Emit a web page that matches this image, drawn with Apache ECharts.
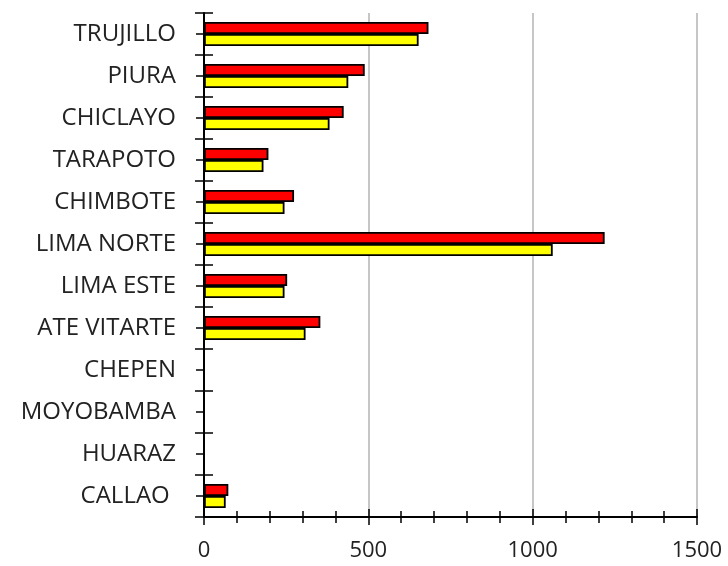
<!DOCTYPE html>
<html>
<head>
<meta charset="utf-8">
<script src="https://cdn.jsdelivr.net/npm/echarts@6/dist/echarts.min.js"></script>
<style>
  html, body { margin: 0; padding: 0; background: #fff; }
  #chart { width: 728px; height: 566px; }
</style>
</head>
<body>
<div id="chart"></div>
<script>
// categories top to bottom
const cities = ['TRUJILLO', 'PIURA', 'CHICLAYO', 'TARAPOTO', 'CHIMBOTE', 'LIMA NORTE',
  'LIMA ESTE', 'ATE VITARTE', 'CHEPEN', 'MOYOBAMBA', 'HUARAZ', 'CALLAO '];
const redValues = [683, 489, 425, 196, 274, 1219, 253, 354, 0, 0, 0, 74];
const yellowValues = [653, 439, 382, 181, 245, 1061, 245, 309, 0, 0, 0, 66];
const xTicks = [0, 500, 1000, 1500];

const chart = echarts.init(document.getElementById('chart'));

const font = '"Open Sans", "Liberation Sans", sans-serif';
const black = '#000';

// shared y category axis base
function catAxis(extra) {
  return Object.assign({
    type: 'category',
    position: 'left',
    inverse: true,
    data: cities,
    axisLine: { show: false },
    axisLabel: { show: false },
    splitLine: { show: false }
  }, extra);
}

function valAxis(extra) {
  return Object.assign({
    type: 'value',
    position: 'bottom',
    min: xTicks[0],
    max: xTicks[xTicks.length - 1],
    interval: xTicks[1] - xTicks[0],
    axisLine: { show: false },
    axisLabel: { show: false },
    splitLine: { show: false }
  }, extra);
}

const option = {
  animation: false,
  grid: { left: 204, right: 31, top: 13, bottom: 49, containLabel: false },
  xAxis: [
    valAxis({
      axisLine: { show: true, lineStyle: { color: black, width: 2 } },
      axisTick: { show: true, length: 8, lineStyle: { color: black, width: 1.5 } },
      minorTick: { show: true, splitNumber: 5, length: 6, lineStyle: { color: black, width: 1.5 } },
      splitLine: { show: true, lineStyle: { color: '#c6c6c6', width: 2 } },
      axisLabel: {
        show: true, fontSize: 22, fontFamily: font, color: '#222', margin: 23,
        formatter: v => String(v)
      }
    }),
    valAxis({
      axisTick: { show: true, inside: true, length: 8, lineStyle: { color: black, width: 1.5 } },
      minorTick: { show: true, splitNumber: 5, length: 6, lineStyle: { color: black, width: 1.5 } }
    })
  ],
  yAxis: [
    catAxis({
      axisLine: { show: true, lineStyle: { color: black, width: 2 } },
      axisTick: { show: true, length: 9, lineStyle: { color: black, width: 1.5 } },
      axisLabel: { show: true, fontSize: 24, fontFamily: font, color: '#222', margin: 28 }
    }),
    catAxis({
      axisTick: { show: true, inside: true, length: 9, lineStyle: { color: black, width: 1.5 } }
    }),
    catAxis({
      axisTick: { show: true, alignWithLabel: true, length: 8, lineStyle: { color: black, width: 1.5 } }
    })
  ],
  series: [
    {
      name: 'red',
      type: 'bar',
      xAxisIndex: 0,
      yAxisIndex: 0,
      data: redValues,
      barWidth: 12,
      barGap: '0%',
      itemStyle: { color: '#ff0000', borderColor: black, borderWidth: 1.8 }
    },
    {
      name: 'yellow',
      type: 'bar',
      xAxisIndex: 0,
      yAxisIndex: 0,
      data: yellowValues,
      barWidth: 12,
      barGap: '0%',
      itemStyle: { color: '#ffff00', borderColor: black, borderWidth: 1.8 }
    }
  ]
};

chart.setOption(option);
</script>
</body>
</html>
